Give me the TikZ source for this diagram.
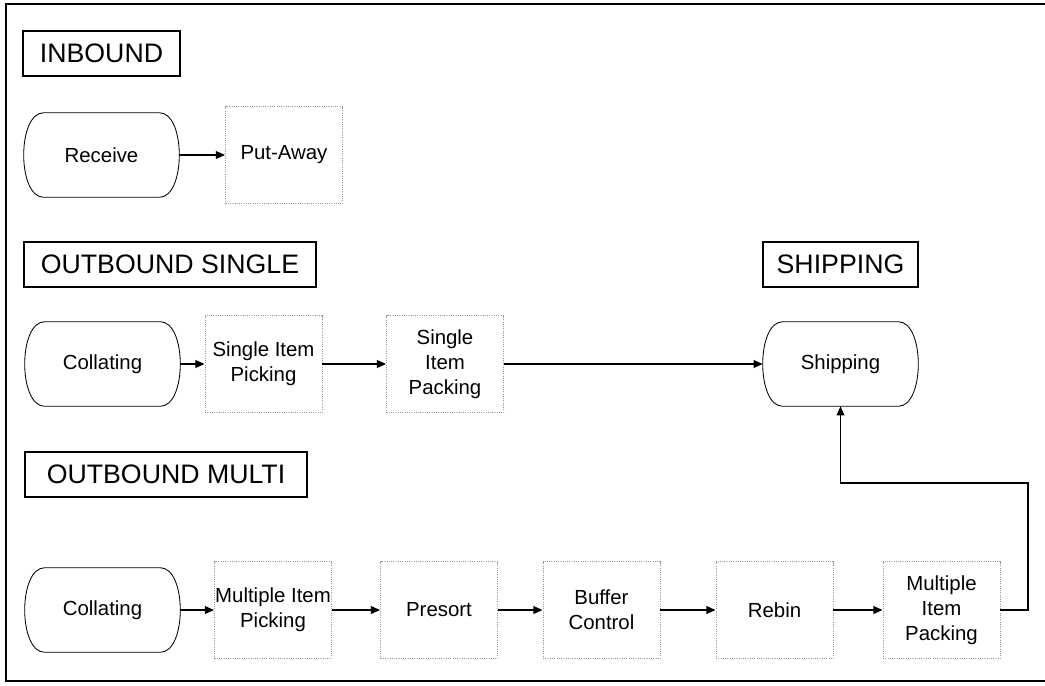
\documentclass[tikz,border=0pt]{standalone}
\usepackage{fontspec}
\setmainfont{Liberation Sans}
\usetikzlibrary{positioning, arrows.meta, calc}

% outline of a terminal box, drawn round the named node
\newcommand{\termline}[1]{\draw[line width=0.6pt] ($(#1.north west)+(20,0)$) -- ($(#1.north east)+(-20,0)$)
  .. controls ($(#1.north east)+(6.7,0)$) and ($(#1.south east)+(6.7,0)$) .. ($(#1.south east)+(-20,0)$)
  -- ($(#1.south west)+(20,0)$)
  .. controls ($(#1.south west)+(-6.7,0)$) and ($(#1.north west)+(-6.7,0)$) .. cycle;}

\begin{document}
\begin{tikzpicture}[x=0.025cm, y=-0.025cm]
\tikzset{lbl/.style={draw, line width=0.8pt, rectangle, minimum height=45*0.025cm, inner sep=0pt, font=\fontsize{19}{22}\selectfont},
  term/.style={rectangle, minimum width=155*0.025cm, minimum height=84*0.025cm, inner sep=0pt, font=\fontsize{14.5}{17.7}\selectfont},
  proc/.style={draw=gray!80, densely dotted, line width=0.6pt, rectangle, minimum width=117*0.025cm, minimum height=97*0.025cm, inner sep=0pt, align=center, font=\fontsize{14.5}{17.7}\selectfont},
  arr/.style={line width=0.9pt, -{Triangle[length=6.5pt, width=5.5pt]}}}
\useasboundingbox (0,0) rectangle (1045,685);
\draw[line width=1.4pt] (1045,4) -- (6,4) -- (6,681) -- (1045,681);
% inbound
\node[lbl, minimum width=157*0.025cm] (L1) at (101.5,53.5) {INBOUND};
\node[term] (R) at (101.5,155) {Receive};
\node[proc] (PA) at (284,155) {Put-Away};
\draw[arr] (R) -- (PA);
% outbound single
\node[lbl, minimum width=292*0.025cm] (L2) at (170,264.5) {OUTBOUND SINGLE};
\node[lbl, minimum width=155*0.025cm] (L3) at (840.5,264.5) {SHIPPING};
\node[term] (C1) at (102.5,364) {Collating};
\node[proc] (SP1) at (263.5,364) {Single Item\\Picking};
\node[proc] (SP2) at (445,364) {Single\\Item\\Packing};
\node[term] (S) at (840.5,364) {Shipping};
\draw[arr] (C1) -- (SP1); \draw[arr] (SP1) -- (SP2); \draw[arr] (SP2) -- (S);
% outbound multi
\node[lbl, minimum width=282*0.025cm] (L4) at (166,474.5) {OUTBOUND MULTI};
\node[term] (C2) at (102.5,610) {Collating};
\node[proc] (MP1) at (273,610) {Multiple Item\\Picking};
\node[proc] (PS) at (439,610) {Presort};
\node[proc] (BC) at (601.5,610) {Buffer\\Control};
\node[proc] (RB) at (774.5,610) {Rebin};
\node[proc] (MP2) at (941.5,610) {Multiple\\Item\\Packing};
\coordinate (T) at (1028,483);
\draw[arr] (C2) -- (MP1); \draw[arr] (MP1) -- (PS); \draw[arr] (PS) -- (BC);
\draw[arr] (BC) -- (RB); \draw[arr] (RB) -- (MP2);
\draw[arr] (MP2.east) -| (T) -| (S.south);
\termline{R} \termline{C1} \termline{S} \termline{C2}
\end{tikzpicture}
\end{document}
